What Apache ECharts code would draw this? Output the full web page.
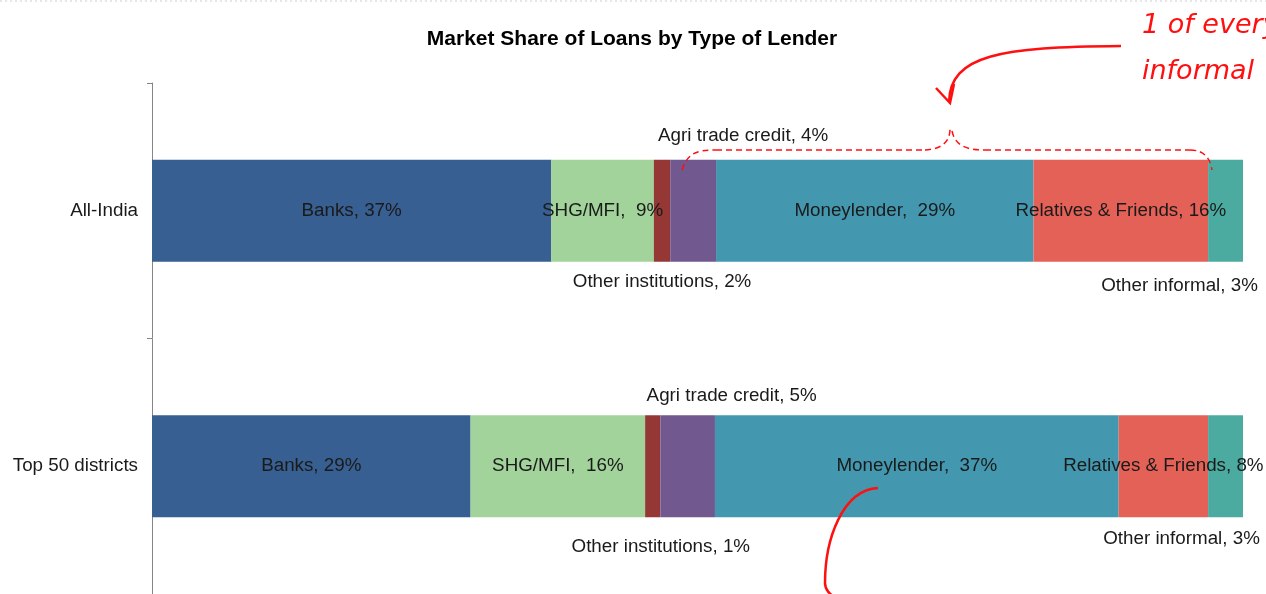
<!DOCTYPE html>
<html>
<head>
<meta charset="utf-8">
<script src="https://cdn.jsdelivr.net/npm/echarts@6/dist/echarts.min.js"></script>
<style>html,body{margin:0;padding:0;background:#fff}#c{width:1266px;height:594px}</style>
</head>
<body>
<div id="c"></div>
<script>
// ---- data ----
var categories = ['All-India', 'Top 50 districts'];
var lenderNames = ['Banks', 'SHG/MFI', 'Other institutions', 'Agri trade credit', 'Moneylender', 'Relatives & Friends', 'Other informal'];
var labelSeparators = [', ', ',  ', ', ', ', ', ',  ', ', ', ', '];
var banks = [36.6, 29.2];
var shgMfi = [9.4, 16.0];
var otherInstitutions = [1.5, 1.4];
var agriTradeCredit = [4.2, 5.0];
var moneylender = [29.1, 37.0];
var relativesFriends = [16.0, 8.2];
var otherInformal = [3.2, 3.2];
var seriesValues = [banks, shgMfi, otherInstitutions, agriTradeCredit, moneylender, relativesFriends, otherInformal];

// ---- styles ----
var colors = ['#375F91', '#A1D39B', '#953735', '#71588F', '#4398AF', '#E46157', '#4BABA1'];
var FONT = 'Liberation Sans, Arial, sans-serif';
var FS = 18.8;
// per-series, per-category label layout (outside labels)
var labelLayoutCfg = {
  2: [{position: 'bottom', distance: 11, dx: 0}, {position: 'bottom', distance: 20, dx: 8}],
  3: [{position: 'top', distance: 14, dx: 50}, {position: 'top', distance: 10, dx: 44}],
  6: [{position: 'bottom', distance: 15, dx: -46}, {position: 'bottom', distance: 12, dx: -44}]
};

var series = lenderNames.map(function (name, si) {
  var sep = labelSeparators[si];
  var s = {
    name: name,
    type: 'bar',
    stack: 'total',
    barWidth: 102,
    itemStyle: {color: colors[si]},
    label: {
      show: true,
      position: 'inside',
      color: '#1a1a1a',
      fontFamily: FONT,
      fontSize: FS,
      formatter: function (p) { return name + sep + Math.round(p.value) + '%'; }
    },
    data: seriesValues[si].map(function (v, ci) {
      var item = {value: v};
      if (labelLayoutCfg[si]) {
        var L = labelLayoutCfg[si][ci];
        item.label = {position: L.position, distance: L.distance};
      }
      return item;
    })
  };
  if (labelLayoutCfg[si]) {
    s.labelLayout = function (params) {
      return {dx: labelLayoutCfg[si][params.dataIndex].dx};
    };
  }
  return s;
});

var red = '#FF1010';
var Z = 100;
var chart = echarts.init(document.getElementById('c'), null, {renderer: 'canvas'});
chart.setOption({
  animation: false,
  backgroundColor: '#fff',
  title: {
    text: 'Market Share of Loans by Type of Lender',
    left: 632, top: 29, textAlign: 'center', padding: 0,
    textStyle: {fontFamily: FONT, fontSize: 21, fontWeight: 'bold', color: '#000'}
  },
  grid: {left: 152, right: 23, top: 83, bottom: -3, containLabel: false},
  xAxis: {type: 'value', min: 0, max: 100, show: false},
  yAxis: {
    type: 'category',
    data: categories,
    inverse: true,
    axisLine: {show: true, lineStyle: {color: '#868686', width: 1}},
    axisTick: {show: true, length: 5, lineStyle: {color: '#868686'}},
    axisLabel: {fontFamily: FONT, fontSize: FS, color: '#1a1a1a', margin: 14}
  },
  series: series,
  graphic: [
    {type: 'line', z: Z, shape: {x1: 0, y1: 1, x2: 1266, y2: 1}, style: {stroke: '#e6e6e6', lineWidth: 2, lineDash: [2, 3]}, silent: true},
    // handwritten note
    {type: 'text', z: Z, left: 1142, top: 12, style: {text: '1 of every', fontFamily: 'DejaVu Sans, sans-serif', fontStyle: 'italic', fontSize: 27, fill: red}},
    {type: 'text', z: Z, left: 1142, top: 58, style: {text: 'informal', fontFamily: 'DejaVu Sans, sans-serif', fontStyle: 'italic', fontSize: 27, fill: red}},
    // arrow
    {type: 'bezierCurve', z: Z, shape: {x1: 1121, y1: 46, cpx1: 1000, cpy1: 47, cpx2: 950, cpy2: 55, x2: 949, y2: 102}, style: {stroke: red, lineWidth: 2.5, fill: null}},
    {type: 'polyline', z: Z, shape: {points: [[936, 88], [950, 103], [954, 84]]}, style: {stroke: red, lineWidth: 2.5, fill: null}},
    // dashed brace
    {type: 'bezierCurve', z: Z, shape: {x1: 682, y1: 170, cpx1: 688, cpy1: 152, cpx2: 698, cpy2: 150, x2: 716, y2: 150}, style: {stroke: red, lineWidth: 1.5, lineDash: [6, 4], fill: null}},
    {type: 'line', z: Z, shape: {x1: 716, y1: 150, x2: 925, y2: 150}, style: {stroke: red, lineWidth: 1.5, lineDash: [6, 4]}},
    {type: 'bezierCurve', z: Z, shape: {x1: 925, y1: 150, cpx1: 944, cpy1: 149, cpx2: 950, cpy2: 140, x2: 950, y2: 129}, style: {stroke: red, lineWidth: 1.5, lineDash: [6, 4], fill: null}},
    {type: 'bezierCurve', z: Z, shape: {x1: 952, y1: 131, cpx1: 955, cpy1: 145, cpx2: 965, cpy2: 150, x2: 985, y2: 150}, style: {stroke: red, lineWidth: 1.5, lineDash: [6, 4], fill: null}},
    {type: 'line', z: Z, shape: {x1: 985, y1: 150, x2: 1190, y2: 150}, style: {stroke: red, lineWidth: 1.5, lineDash: [6, 4]}},
    {type: 'bezierCurve', z: Z, shape: {x1: 1190, y1: 150, cpx1: 1204, cpy1: 150, cpx2: 1210, cpy2: 158, x2: 1212, y2: 170}, style: {stroke: red, lineWidth: 1.5, lineDash: [6, 4], fill: null}},
    // bottom curve
    {type: 'bezierCurve', z: Z, shape: {x1: 878, y1: 488, cpx1: 842, cpy1: 490, cpx2: 825, cpy2: 540, x2: 825, y2: 583}, style: {stroke: red, lineWidth: 2.5, fill: null}},
    {type: 'bezierCurve', z: Z, shape: {x1: 825, y1: 583, cpx1: 825, cpy1: 590, cpx2: 830, cpy2: 594, x2: 835, y2: 598}, style: {stroke: red, lineWidth: 2.5, fill: null}}
  ]
});
</script>
</body>
</html>
